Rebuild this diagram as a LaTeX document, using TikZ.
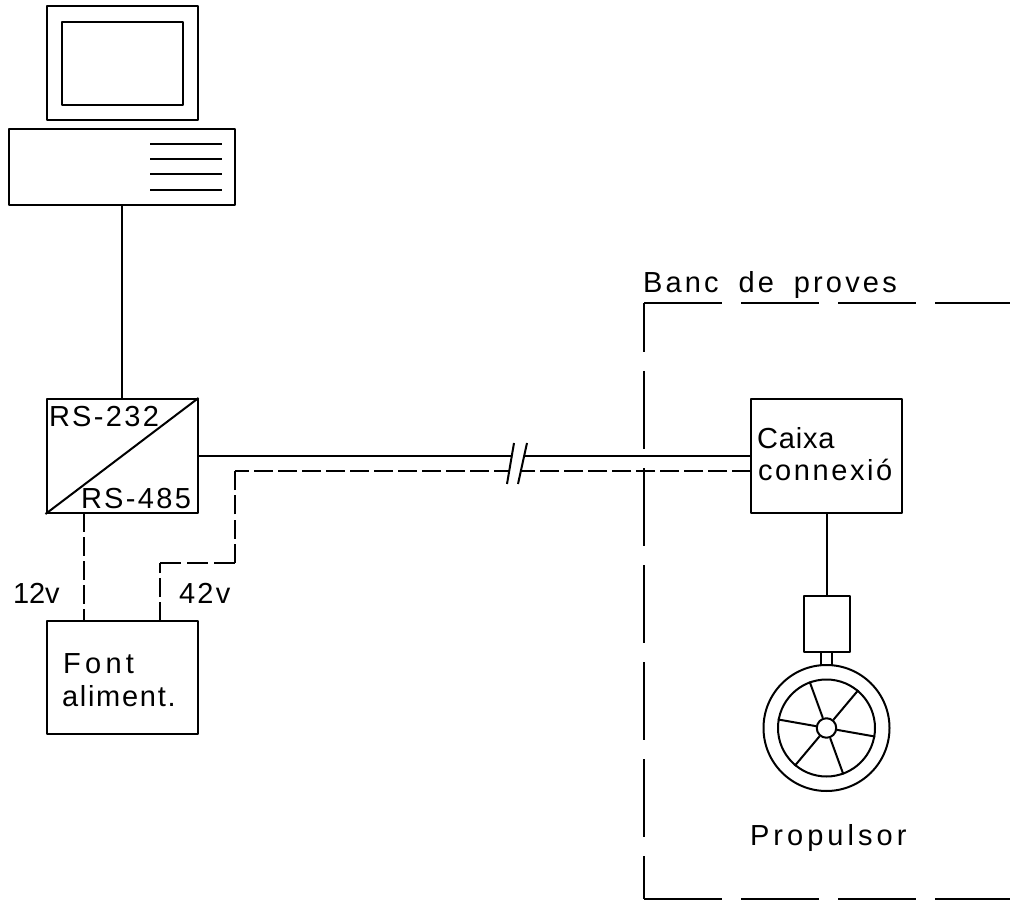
\documentclass[tikz,border=0pt]{standalone}
\usepackage{fontspec}
\setmainfont{Liberation Sans}
\tikzset{
  every path/.style={line width=2pt,line join=round},
  cadbox/.style={draw,rectangle,minimum width=0pt,inner sep=0pt,line width=2pt},
  lbl/.style={inner sep=0pt,anchor=base west,font=\fontsize{29}{29}\selectfont\addfontfeature{LetterSpace=#1}},
  shortdash/.style={dash pattern=on 19pt off 5pt},
  longdash/.style={dash pattern=on 78pt off 19pt}
}
\begin{document}
\begin{tikzpicture}[x=1pt,y=-1pt]
\useasboundingbox (0,0) rectangle (1010,901);
% computer
\node[cadbox,minimum width=151pt,minimum height=114pt] (mon) at (122,63.5) {};
\node[cadbox,minimum width=121pt,minimum height=83pt] (scr) at (122,63.5) {};
\node[cadbox,minimum width=226.5pt,minimum height=76pt] (case) at (122,167) {};
\foreach \y in {144.5,159.5,174.5,190} \draw (150,\y) -- (222,\y);
% converter
\node[cadbox,minimum width=151pt,minimum height=114pt] (conv) at (122,456) {};
\draw (conv.south west) -- (conv.north east);
\node[lbl=8] (t232) at (48,427) {RS-232};
\node[lbl=8] (t485) at (80,508) {RS-485};
\draw (case.south) -- (conv.north);
% supply
\node[cadbox,minimum width=151pt,minimum height=113pt] (psu) at (122,677.5) {};
\node[lbl=15] at (62,673) (tf) {Font};
\node[lbl=6] at (61,706) (ta) {aliment.};
\node[lbl=0] at (12,603) (t12) {12v};
\node[lbl=8] at (178,603) (t42) {42v};
% junction box
\node[cadbox,minimum width=151pt,minimum height=114pt] (box) at (826.5,456) {};
\node[lbl=3] at (756,449) (tc) {Caixa};
\node[lbl=9] at (757,480) (tn) {connexió};
% power links
\coordinate (p12) at (84,513);
\coordinate (q12) at (84,621);
\draw[shortdash] (p12) -- (q12);
\coordinate (q42) at (160,621);
\coordinate (a) at (160,563);
\coordinate (b) at (235,563);
\coordinate (c) at (235,471);
\coordinate (d) at (509,471);
\coordinate (e) at (521,471);
\coordinate (f) at (751,471);
\draw[shortdash] (q42) -- (a);
\draw[dash pattern=on 21pt off 6pt] (a) -- (b);
\draw[dash pattern=on 19pt off 5.33pt] (b) -- (c);
\draw[shortdash,dash phase=5pt] (c) -- (d);
\draw[shortdash] (f) -- (e);
\coordinate (s1) at (512,456);
\coordinate (s2) at (524,456);
\draw (conv.east) -- (s1);
\draw (s2) -- (box.west);
\coordinate (k1a) at (514,443);
\coordinate (k1b) at (507,484);
\coordinate (k2a) at (527,443);
\coordinate (k2b) at (518,484);
\draw (k1a) -- (k1b);
\draw (k2a) -- (k2b);
% thruster
\node[cadbox,minimum width=46pt,minimum height=56pt] (mot) at (826.5,623.7) {};
\draw (box.south) -- (mot.north);
\node[draw,circle,minimum size=126pt,inner sep=0pt,line width=2pt] (outer) at (826.5,728) {};
\node[draw,circle,minimum size=97pt,inner sep=0pt,line width=2pt] (inner) at (826.5,728) {};
\node[draw,circle,minimum size=19.5pt,inner sep=0pt,line width=2pt] (hub) at (826.5,728) {};
\foreach \a in {50,110,170,230,290,350}
  \draw (hub.\a) -- (inner.\a);
\coordinate (sa) at (821.2,651.7);
\coordinate (sb) at (821.2,665.5);
\coordinate (sc) at (832.2,651.7);
\coordinate (sd) at (832.2,665.5);
\draw (sa) -- (sb);
\draw (sc) -- (sd);
\node[lbl=14] at (749,845) (tp) {Propulsor};
% test bench
\coordinate (tl) at (644,303);
\coordinate (tr) at (1010,303);
\coordinate (bl) at (644,899);
\coordinate (br) at (1010,899);
\draw[longdash] (tl) -- (tr);
\draw[longdash] (bl) -- (br);
\draw[dash pattern=on 78pt off 19pt,dash phase=29pt] (tl) -- (bl);
\node[lbl=11] at (642,293) (tb) {Banc\hspace{8.6pt} de\hspace{8.6pt} proves};
\end{tikzpicture}
\end{document}
